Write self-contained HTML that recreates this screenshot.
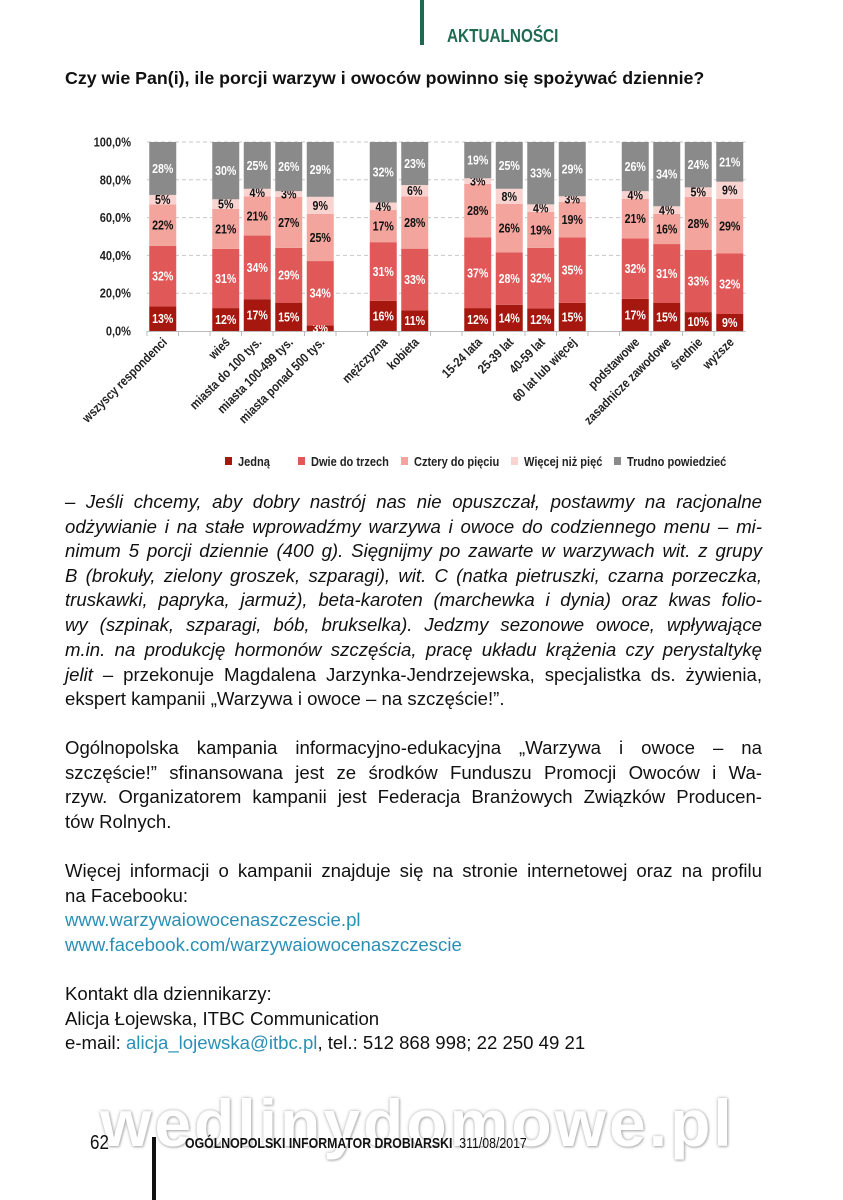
<!DOCTYPE html>
<html><head><meta charset="utf-8">
<style>
body{margin:0;background:#fff;}
#page{position:relative;width:843px;height:1200px;overflow:hidden;background:#fff;font-family:"Liberation Sans",sans-serif;color:#111;}
.ln{position:absolute;left:65px;width:697px;font-size:18.6px;line-height:22px;white-space:nowrap;}
.j{text-align:justify;text-align-last:justify;white-space:normal;}
.it{font-style:italic;}
.lnk{color:#2a8fb5;}
</style></head><body>
<div id="page">
<div style="position:absolute;left:420px;top:0;width:4px;height:45px;background:#1f6b52"></div>
<div style="position:absolute;left:447px;top:26px;font-size:18px;font-weight:bold;color:#1f6b52;transform:scaleX(0.85);transform-origin:left">AKTUALNOŚCI</div>
<div style="position:absolute;left:65px;top:68px;font-size:17.8px;font-weight:bold;white-space:nowrap">Czy wie Pan(i), ile porcji warzyw i owoców powinno się spożywać dziennie?</div>
<svg id="chart" style="position:absolute;left:0;top:110px" width="843" height="370" viewBox="0 110 843 370"></svg>

<div class="ln j it" style="top:491px">– Jeśli chcemy, aby dobry nastrój nas nie opuszczał, postawmy na racjonalne</div>
<div class="ln j it" style="top:516px">odżywianie i na stałe wprowadźmy warzywa i owoce do codziennego menu – mi-</div>
<div class="ln j it" style="top:540px">nimum 5 porcji dziennie (400 g). Sięgnijmy po zawarte w warzywach wit. z grupy</div>
<div class="ln j it" style="top:565px">B (brokuły, zielony groszek, szparagi), wit. C (natka pietruszki, czarna porzeczka,</div>
<div class="ln j it" style="top:589px">truskawki, papryka, jarmuż), beta-karoten (marchewka i dynia) oraz kwas folio-</div>
<div class="ln j it" style="top:614px">wy (szpinak, szparagi, bób, brukselka). Jedzmy sezonowe owoce, wpływające</div>
<div class="ln j it" style="top:639px">m.in. na produkcję hormonów szczęścia, pracę układu krążenia czy perystaltykę</div>
<div class="ln j" style="top:664px"><i>jelit</i> – przekonuje Magdalena Jarzynka-Jendrzejewska, specjalistka ds. żywienia,</div>
<div class="ln" style="top:688px">ekspert kampanii „Warzywa i owoce – na szczęście!”.</div>

<div class="ln j" style="top:737px">Ogólnopolska kampania informacyjno-edukacyjna „Warzywa i owoce – na</div>
<div class="ln j" style="top:762px">szczęście!” sfinansowana jest ze środków Funduszu Promocji Owoców i Wa-</div>
<div class="ln j" style="top:786px">rzyw. Organizatorem kampanii jest Federacja Branżowych Związków Producen-</div>
<div class="ln" style="top:811px">tów Rolnych.</div>

<div class="ln j" style="top:860px">Więcej informacji o kampanii znajduje się na stronie internetowej oraz na profilu</div>
<div class="ln" style="top:885px">na Facebooku:</div>
<div class="ln lnk" style="top:909px">www.warzywaiowocenaszczescie.pl</div>
<div class="ln lnk" style="top:934px">www.facebook.com/warzywaiowocenaszczescie</div>

<div class="ln" style="top:983px">Kontakt dla dziennikarzy:</div>
<div class="ln" style="top:1008px">Alicja Łojewska, ITBC Communication</div>
<div class="ln" style="top:1032px">e-mail: <span class="lnk">alicja_lojewska@itbc.pl</span>, tel.: 512 868 998; 22 250 49 21</div>

<div style="position:absolute;left:100px;top:1085px;font-size:66px;font-weight:bold;color:#fff;letter-spacing:3px;text-shadow:0 0 3px #aaa,1px 1px 2px #bbb;white-space:nowrap">wedlinydomowe.pl</div>
<div style="position:absolute;left:90px;top:1132px;font-size:20px;transform:scaleX(0.85);transform-origin:left">62</div>
<div style="position:absolute;left:152px;top:1137px;width:4px;height:63px;background:#111"></div>
<div style="position:absolute;left:185px;top:1135px;font-size:15px;white-space:nowrap;transform:scaleX(0.82);transform-origin:left"><b>OGÓLNOPOLSKI INFORMATOR DROBIARSKI</b>&nbsp; 311/08/2017</div>
</div>
<script>
const categories=["wszyscy respondenci","","wieś","miasta do 100 tys.","miasta 100-499 tys.","miasta ponad 500 tys.","","mężczyzna","kobieta","","15-24 lata","25-39 lat","40-59 lat","60 lat lub więcej","","podstawowe","zasadnicze zawodowe","średnie","wyższe"];
const jedna=[13,null,12,17,15,3,null,16,11,null,12,14,12,15,null,17,15,10,9];
const dwie=[32,null,31,34,29,34,null,31,33,null,37,28,32,35,null,32,31,33,32];
const cztery=[22,null,21,21,27,25,null,17,28,null,28,26,19,19,null,21,16,28,29];
const wiecej=[5,null,5,4,3,9,null,4,6,null,3,8,4,3,null,4,4,5,9];
const trudno=[28,null,30,25,26,29,null,32,23,null,19,25,33,29,null,26,34,24,21];
const seriesNames=["Jedną","Dwie do trzech","Cztery do pięciu","Więcej niż pięć","Trudno powiedzieć"];
const yTicks=["0,0%","20,0%","40,0%","60,0%","80,0%","100,0%"];

const colors=["#a6180f","#e05858","#f2a49d","#f9d3d0","#8a8a8a"];
const labelColors=["#fff","#fff","#111","#111","#fff"];
const series=[jedna,dwie,cztery,wiecej,trudno];
const svg=document.getElementById('chart');
const NS="http://www.w3.org/2000/svg";
const y0=331,y1=142,x0=147,step=31.5,bw=27;
const FF='Liberation Sans, sans-serif';
function yScale(v){return y0-(y0-y1)*v/100;}
function xCenter(i){return x0+step*(i+0.5);}
function mk(t,a){const e=document.createElementNS(NS,t);for(const k in a)e.setAttribute(k,a[k]);svg.appendChild(e);return e;}
yTicks.forEach((t,i)=>{
  const v=i*20,y=yScale(v);
  if(i>0){const g=mk('line',{x1:x0,x2:x0+step*categories.length,y1:y,y2:y,stroke:'#c8c8c8','stroke-dasharray':'4,3','stroke-width':1});
  
  }
  const tx=mk('text',{x:0,y:0,'text-anchor':'end','font-size':13,'font-weight':'bold',fill:'#222','font-family':FF,transform:`translate(131,${y+4.5}) scale(0.85,1)`});
  tx.textContent=t;
  
  
});
const ax=mk('line',{x1:x0,x2:x0+step*categories.length,y1:y0+0.5,y2:y0+0.5,stroke:'#bbb'});


categories.forEach((c,i)=>{
  const tk=mk('line',{x1:x0+step*i,x2:x0+step*i,y1:y0,y2:y0+5,stroke:'#bbb'});
  
  
  if(jedna[i]==null)return;
  const tot=series.reduce((s,a)=>s+a[i],0);
  let acc=0;const cx=xCenter(i);
  series.forEach((a,k)=>{
    const v=a[i]*100/tot;
    const ya=yScale(acc),yb=yScale(acc+v);
    const r=mk('rect',{x:cx-bw/2,y:yb,width:bw,height:ya-yb,fill:colors[k]});
    
    
    const lt=mk('text',{x:0,y:0,'text-anchor':'middle','font-size':13,'font-weight':'bold',fill:labelColors[k],'font-family':FF,transform:`translate(${cx},${(ya+yb)/2+4.5}) scale(0.82,1)`});
    lt.textContent=a[i]+'%';
    
    
    acc+=v;
  });
  const xl=mk('text',{x:0,y:0,'text-anchor':'end','font-size':13,'font-weight':'bold',fill:'#222','font-family':FF,transform:`translate(${cx+5},${y0+12}) rotate(-45) scale(0.85,1)`});
  xl.textContent=c;
  
  
});
const lgX=[229,302,405,515,618];
seriesNames.forEach((n,k)=>{
  const r=mk('rect',{x:lgX[k]-4,y:457,width:7,height:8,fill:colors[k]});
  
  
  const t=mk('text',{x:0,y:0,'font-size':13,'font-weight':'bold',fill:'#222','font-family':FF,transform:`translate(${lgX[k]+9},466) scale(0.85,1)`});
  t.textContent=n;
  
  
});
</script>
</body></html>
